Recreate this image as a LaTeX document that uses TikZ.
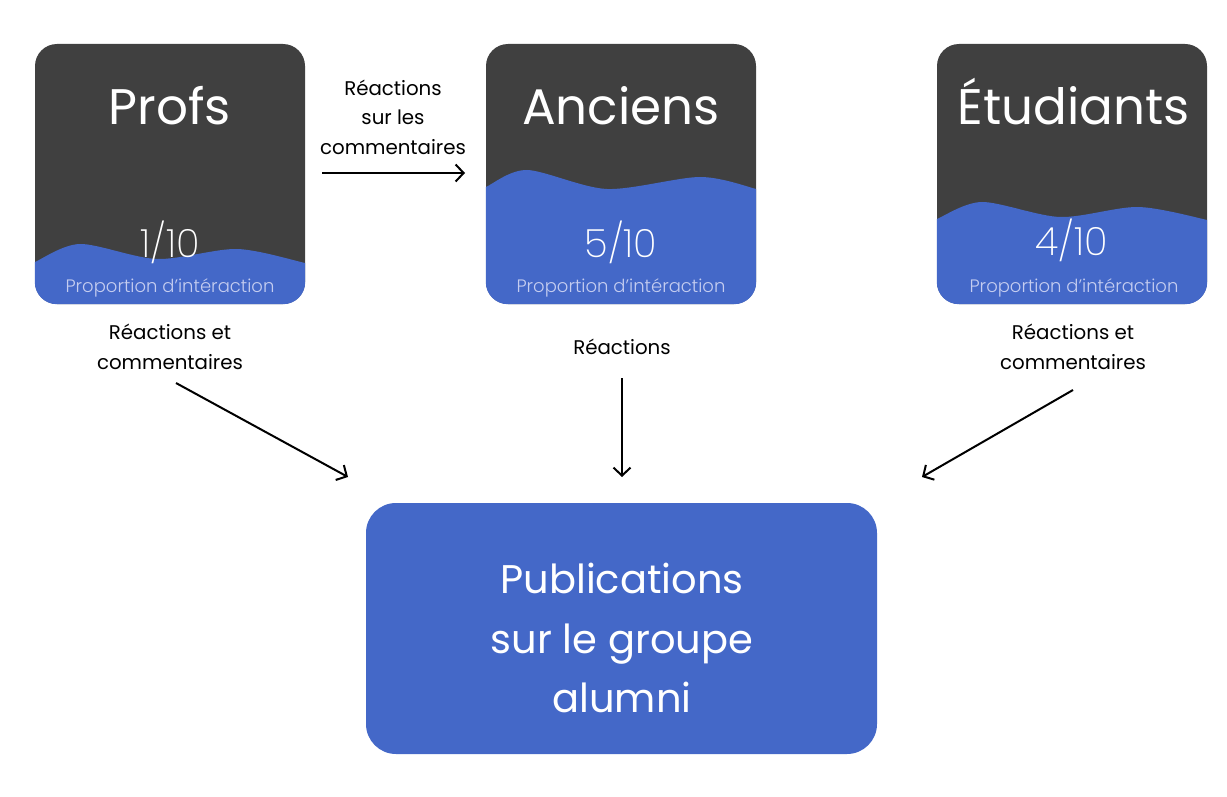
\documentclass[tikz,border=0pt]{standalone}
\usepackage{fontspec}
\setmainfont{Poppins}
\newfontfamily\poplight{Poppins Light}
\newfontfamily\popxlight{Poppins ExtraLight}
\usetikzlibrary{arrows.meta}
\definecolor{cardgrey}{HTML}{404040}
\definecolor{cardblue}{HTML}{4468C8}
\definecolor{lavender}{HTML}{C5CDF0}
\tikzset{
  card/.style={fill=cardgrey, rounded corners=22pt, minimum width=270pt, minimum height=260pt, inner sep=0pt, draw=none},
  cardtitle/.style={text=white, anchor=base, inner sep=0pt, font=\fontsize{50}{60}\selectfont},
  score/.style={text=white, anchor=base, inner sep=0pt, font=\popxlight\fontsize{39}{48}\selectfont},
  propo/.style={text=lavender, anchor=base, inner sep=0pt, font=\poplight\fontsize{18}{22}\selectfont},
  lbl/.style={text=black, align=center, inner sep=0pt, font=\fontsize{19.8}{29.5}\selectfont},
  conn/.style={line width=2pt, -{Straight Barb[length=8pt,width=17pt,line width=2pt]}},
  pubbox/.style={fill=cardblue, rounded corners=30pt, minimum width=511pt, minimum height=251pt, inner sep=0pt, draw=none},
  pubtext/.style={text=white, align=center, inner sep=0pt, font=\fontsize{40}{59.5}\selectfont}
}
\begin{document}
\begin{tikzpicture}[x=1pt,y=-1pt]
\useasboundingbox[fill=white] (0,0) rectangle (1227,797);

% Profs card
\node[card] (profs) at (170,174) {};
\begin{scope}
  \clip[rounded corners=22pt] (profs.south west) rectangle (profs.north east);
  \fill[cardblue] plot[smooth] coordinates {(25,268) (35,262) (80,244) (157,259) (237,249) (305,263) (315,266)} -- (315,315) -- (25,315) -- cycle;
\end{scope}
\node[cardtitle] (profst) at (170,125) {Profs};
\node[score] (profss) at (170,257) {1/10};
\node[propo] (profsp) at (170,292) {Proportion d’intéraction};

% Anciens card
\node[card] (anciens) at (621,174) {};
\begin{scope}
  \clip[rounded corners=22pt] (anciens.south west) rectangle (anciens.north east);
  \fill[cardblue] plot[smooth] coordinates {(476,193) (486,187) (527,170) (607,189) (700,177) (756,189) (766,194)} -- (766,315) -- (476,315) -- cycle;
\end{scope}
\node[cardtitle] (ancienst) at (621,125) {Anciens};
\node[score] (ancienss) at (621,257) {5/10};
\node[propo] (anciensp) at (621,292) {Proportion d’intéraction};

% Etudiants card
\node[card] (etud) at (1072,174) {};
\begin{scope}
  \clip[rounded corners=22pt] (etud.south west) rectangle (etud.north east);
  \fill[cardblue] plot[smooth] coordinates {(927,225) (937,219) (982,202) (1060,217) (1138,207) (1207,220) (1217,225)} -- (1217,315) -- (927,315) -- cycle;
\end{scope}
\node[cardtitle] (etudt) at (1074,125) {Étudiants};
\node[score] (etuds) at (1072,255) {4/10};
\node[propo] (etudp) at (1074,292) {Proportion d’intéraction};

% Publications box
\node[pubbox] (pub) at (621.5,628.5) {};
\node[pubtext] (pubt) at (622,638) {Publications\\sur le groupe\\alumni};

% Labels
\node[lbl] (l1) at (393,117) {Réactions\\sur les\\commentaires};
\node[lbl] (l2) at (170,347) {Réactions et\\commentaires};
\node[lbl] (l3) at (622,347) {Réactions};
\node[lbl] (l4) at (1073,347) {Réactions et\\commentaires};

% Connector endpoints
\coordinate (a1s) at (322,173);
\coordinate (a1e) at (465,173);
\coordinate (a2s) at (176,383);
\coordinate (a2e) at (348,477);
\coordinate (a3s) at (622,378);
\coordinate (a3e) at (622,477);
\coordinate (a4s) at (1073,390);
\coordinate (a4e) at (922,477);

\draw[conn] (a1s) -- (a1e);
\draw[conn] (a2s) -- (a2e);
\draw[conn] (a3s) -- (a3e);
\draw[conn] (a4s) -- (a4e);
\end{tikzpicture}
\end{document}
